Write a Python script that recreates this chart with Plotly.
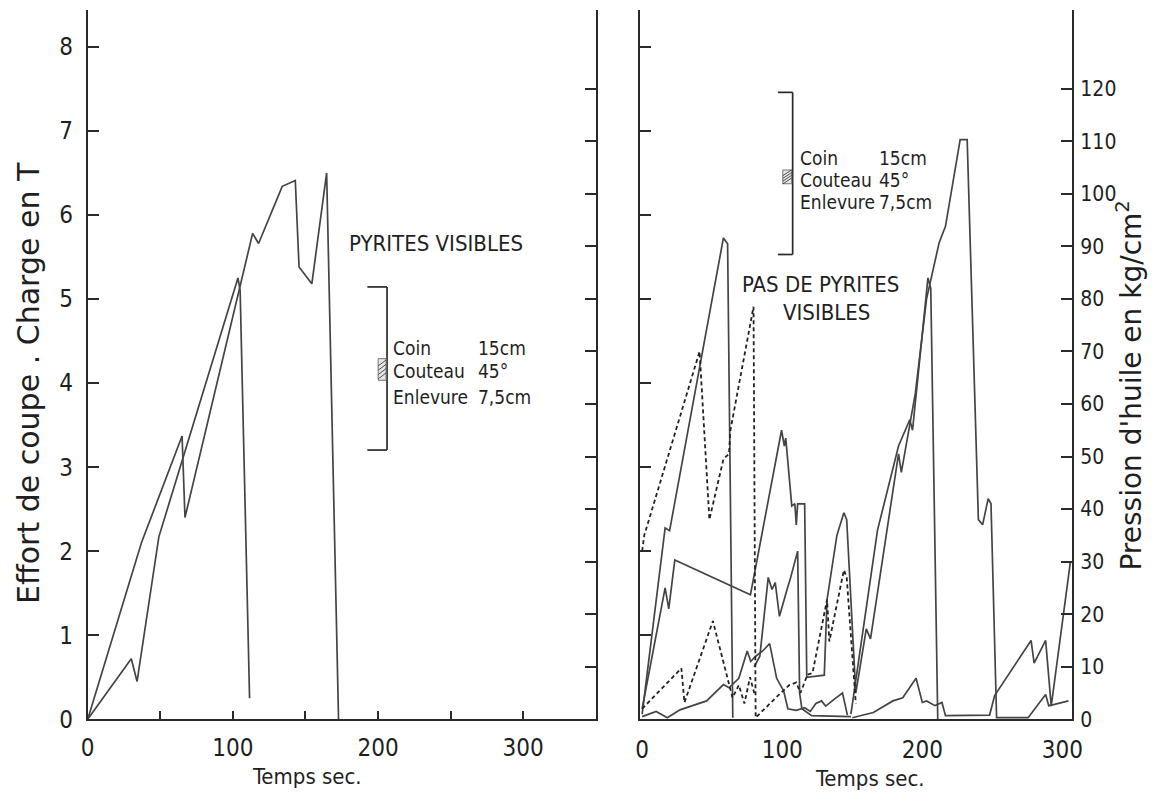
import plotly.graph_objects as go

W, H = 1163, 806

# ---- Left panel: cutting force (t) vs time (s), "pyrites visibles"
left_t_a = [0, 37, 65, 67, 113.6, 117.7, 134, 143, 145.6, 154.4, 164.6, 172.8]
left_f_a = [0, 2.1, 3.37, 2.4, 5.78, 5.66, 6.34, 6.41, 5.38, 5.18, 6.5, 0]
left_t_b = [0, 30, 34, 49, 103.5, 105, 111.5]
left_f_b = [0, 0.72, 0.45, 2.17, 5.25, 5.1, 0.25]

# ---- Right panel: oil pressure (kg/cm2) vs time (s), "pas de pyrites visibles"
r1_t = [0, 16.4, 19.6, 58, 61, 64.7]
r1_p = [1, 36.4, 35.9, 91.6, 90.5, 0.3]

r2_t = [0, 16.4, 19, 23.3, 77.3, 99.5, 101.5, 102.5, 106.8, 109, 110, 111, 116, 117.5,
        130, 132, 139, 144, 146, 152.5, 160, 163, 183, 185, 195, 203, 212, 216.5, 227,
        232, 240, 243, 247, 249, 253, 275.5, 288, 290.2, 293.7, 304.3]
r2_p = [2, 25, 21, 30.3, 23.7, 55, 52, 53.5, 40.6, 41, 37, 41, 41, 8,
        8.4, 22.8, 35, 39.3, 38, 5, 17.2, 15.3, 50.5, 47, 62, 80, 90.7, 93.8, 110.3,
        110.3, 38, 37, 42, 41, 0.3, 0.3, 4.7, 2.6, 2.8, 3.5]

r3_t = [80, 84, 90, 92.7, 95, 98, 104, 106, 111, 112.4, 114, 121, 149]
r3_p = [10, 12, 27, 24.7, 26, 19.6, 25.2, 27, 32, 5, 2, 0.7, 0.5]

r4_t = [149, 168, 183, 191, 193, 204, 206, 211]
r4_p = [1, 36, 52, 57, 55, 84, 82, 0]

r5_t = [0, 10, 18, 27, 46, 58, 62, 69, 75, 77.5, 81, 86, 91, 96, 101, 104, 110, 116,
        120, 124, 128, 131, 137, 143, 146.5]
r5_p = [0.5, 1.5, 0.3, 1.8, 3.5, 6.6, 6, 7.8, 13, 11, 12, 13, 14.4, 7.8, 5.4, 2, 1.7, 2.2,
        1.5, 3, 3.5, 2.5, 3.8, 5, 0.8]

r6_t = [150, 165, 179, 186, 195.5, 200, 203, 209, 214, 216.5, 248, 251.6, 277.6, 279.8,
        288, 292, 305.7]
r6_p = [0.3, 1.3, 3.5, 4.1, 7.8, 3.2, 3.5, 2.6, 3.2, 0.7, 0.8, 4.5, 15, 10.7,
        15, 2.5, 30]

d1_t = [0, 1.5, 41, 48, 58, 62, 63, 79.5, 81, 88, 95, 105, 110, 113, 118, 121.6, 132,
        133.6, 144, 146, 152.5]
d1_p = [32, 35, 70, 38, 49.5, 50.5, 55, 78.5, 0.3, 2.2, 4, 6.5, 7, 5, 8.5, 8.8, 22.8,
        14.8, 28.4, 27, 3]

d2_t = [0, 28, 30.2, 50.5, 64.5, 69, 73, 77, 80]
d2_p = [2, 9.7, 3.2, 18.7, 4.1, 6.5, 3, 8, 5]

# ---- Axis ticks
force_ticks = [0, 1, 2, 3, 4, 5, 6, 7, 8]
pressure_ticks = [0, 10, 20, 30, 40, 50, 60, 70, 80, 90, 100, 110, 120]
time_ticks = [0, 100, 200, 300]
time_minor_ticks = [50, 150, 250]

FONT = "DejaVu Sans Condensed, DejaVu Sans, sans-serif"
FONT_WIDE = "DejaVu Sans, sans-serif"
INK = "#1f1f1f"
LINE = "#444444"
CLEAR = "rgba(0,0,0,0)"


def px(x):
    return x / W


def py(y):
    return 1 - y / H


fig = go.Figure()

solid = dict(color=LINE, width=1.7)
dashed = dict(color="#222222", width=1.8, dash="4px,3px")

# invisible point so the pressure scale on the left panel's right border is drawn
fig.add_trace(go.Scatter(x=[0], y=[0], mode="markers", marker=dict(opacity=0),
                         xaxis="x", yaxis="y2", hoverinfo="skip"))
# invisible point so the force scale on the right panel's left border is drawn
fig.add_trace(go.Scatter(x=[0], y=[0], mode="markers", marker=dict(opacity=0),
                         xaxis="x2", yaxis="y3", hoverinfo="skip"))

for t, f in [(left_t_a, left_f_a), (left_t_b, left_f_b)]:
    fig.add_trace(go.Scatter(x=t, y=f, mode="lines", line=solid, xaxis="x", yaxis="y",
                             hoverinfo="skip"))

for t, p in [(r1_t, r1_p), (r2_t, r2_p), (r3_t, r3_p), (r4_t, r4_p), (r5_t, r5_p), (r6_t, r6_p)]:
    fig.add_trace(go.Scatter(x=t, y=p, mode="lines", line=solid, xaxis="x2", yaxis="y4",
                             hoverinfo="skip"))
for t, p in [(d1_t, d1_p), (d2_t, d2_p)]:
    fig.add_trace(go.Scatter(x=t, y=p, mode="lines", line=dashed, xaxis="x2", yaxis="y4",
                             hoverinfo="skip"))

x_left = [px(82), px(598)]
x_right = [px(643), px(1082)]
y_dom = [py(732), py(10)]
F_RANGE = [0, 8.44]
P_RANGE = [0, 135]

axis_common = dict(showgrid=False, zeroline=False, showline=True, linecolor="#2a2a2a",
                   linewidth=1.8, tickcolor="#2a2a2a", tickwidth=1.6)
tick_font = dict(family=FONT, size=24, color=INK)

fig.update_layout(
    width=W, height=H,
    margin=dict(l=0, r=0, t=0, b=0),
    paper_bgcolor="white", plot_bgcolor=CLEAR,
    showlegend=False,
    xaxis=dict(domain=x_left, range=[0, 350], anchor="y", tickvals=time_ticks,
               ticks="inside", ticklen=8, ticklabelstandoff=6, tickfont=tick_font,
               minor=dict(tickvals=time_minor_ticks, ticks="inside", ticklen=8,
                          tickcolor="#2a2a2a", tickwidth=1.6),
               **axis_common),
    yaxis=dict(domain=y_dom, range=F_RANGE, anchor="x", tickvals=force_ticks,
               ticks="inside", ticklen=11, ticklabelstandoff=8, tickfont=tick_font,
               **axis_common),
    yaxis2=dict(domain=y_dom, range=P_RANGE, anchor="x", side="right", overlaying="y",
                tickvals=pressure_ticks[1:], showticklabels=False,
                ticks="inside", ticklen=11, **axis_common),
    xaxis2=dict(domain=x_right, range=[-1.5, 307], anchor="y3", tickvals=time_ticks,
                ticks="", ticklabelstandoff=8, tickfont=tick_font, **axis_common),
    yaxis3=dict(domain=y_dom, range=F_RANGE, anchor="x2", tickvals=force_ticks[1:],
                showticklabels=False, ticks="inside", ticklen=11, **axis_common),
    yaxis4=dict(domain=y_dom, range=P_RANGE, anchor="x2", side="right", overlaying="y3",
                tickvals=pressure_ticks, ticks="inside", ticklen=11,
                ticklabelstandoff=2, tickfont=dict(family=FONT, size=21, color=INK),
                **axis_common),
)

ann = []


def text(x, y, s, size=20, xanchor="center", angle=0, family=FONT):
    ann.append(dict(x=px(x), y=py(y), xref="paper", yref="paper", text=s, showarrow=False,
                    xanchor=xanchor, yanchor="middle", textangle=angle,
                    font=dict(family=family, size=size, color=INK)))


text(22, 390, "Effort de coupe . Charge en T", size=30, angle=-90, family=FONT_WIDE)
text(1140, 392, "Pression d'huile en kg/cm<sup>2</sup>", size=28, angle=-90, family=FONT_WIDE)
text(305, 790, "Temps sec.", size=22)
text(877, 792, "Temps sec.", size=22)
text(436, 248, "PYRITES VISIBLES", size=22)
text(826, 290, "PAS DE PYRITES", size=22)
text(832, 318, "VISIBLES", size=22)

for (lx, vx, ys) in [(390, 476, (354, 378, 404)), (803, 884, (161, 183, 206))]:
    for label, value, yy in zip(["Coin", "Couteau", "Enlevure"], ["15cm", "45°", "7,5cm"], ys):
        text(lx, yy, label, size=19, xanchor="left")
        text(vx, yy, value, size=19, xanchor="left")

shapes = []


def seg(x0, y0, x1, y1, w=1.7):
    shapes.append(dict(type="line", xref="paper", yref="paper", x0=px(x0), y0=py(y0),
                       x1=px(x1), y1=py(y1), line=dict(color="#2a2a2a", width=w)))


# brackets grouping the tool parameters
for (bx, top, bot, tick_x) in [(386, 292, 458, 366), (798, 94, 259, 783)]:
    seg(bx, top, bx, bot)
    seg(tick_x, top, bx, top)
    seg(tick_x, bot, bx, bot)

# small hatched boxes
for (x0, y0, x1, y1) in [(377, 365, 385, 387), (788, 173, 797, 187)]:
    shapes.append(dict(type="rect", xref="paper", yref="paper", x0=px(x0), y0=py(y0),
                       x1=px(x1), y1=py(y1), line=dict(color="#777777", width=1),
                       fillcolor="#e6e6e6"))
    n = 4
    for i in range(n):
        ya = y0 + (y1 - y0) * (i + 1) / (n + 1)
        seg(x0, ya + 3, x1, ya - 3, w=0.8)

fig.update_layout(annotations=ann, shapes=shapes)
fig.write_html("out.html")
